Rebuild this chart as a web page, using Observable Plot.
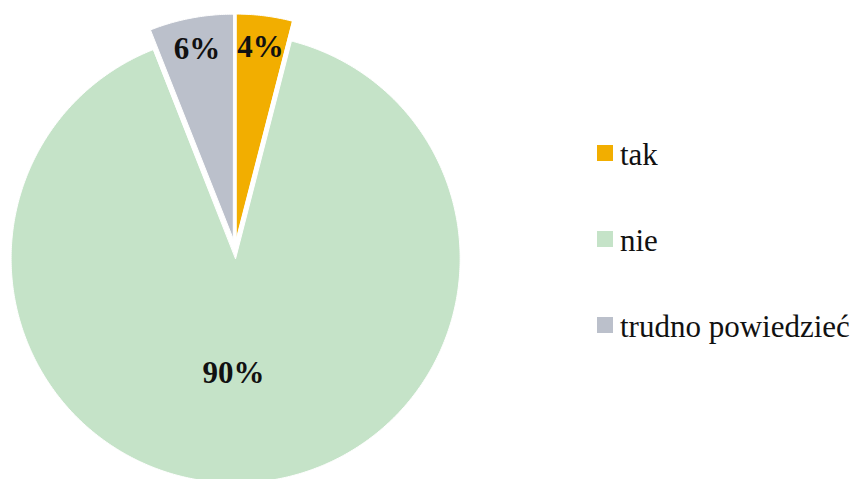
<!DOCTYPE html>
<html>
<head>
<meta charset="utf-8">
<script src="https://cdn.jsdelivr.net/npm/d3@7"></script>
<script src="https://cdn.jsdelivr.net/npm/@observablehq/plot@0.6"></script>
<style>
  html, body { margin: 0; padding: 0; background: #fff; }
  #wrap { position: relative; width: 857px; height: 479px; overflow: hidden; }
  .leg { position: absolute; font-family: "Liberation Serif", serif; font-size: 31px; line-height: 31px; color: #111; white-space: nowrap; }
  .sw { position: absolute; width: 16px; height: 16px; }
</style>
</head>
<body>
<div id="wrap"></div>
<script>
// ---- data ----
const categories = ["tak", "nie", "trudno powiedzieć"];
const values = [4, 90, 6];
const colors = ["#F2AE00", "#C5E3C8", "#BBC0CB"];

// ---- layout ----
const W = 857, H = 479;
const cx = 234.5, cy = 248, R = 224.5;   // pie centre / radius (px)
const explode = 10 / R;                   // slice explosion (in radius units)
const labelR = [0.86, 0.512, 0.86];       // label distance from slice apex
const labelTurn = [0, 4.6, 0];            // label angle adjustment (degrees)

const arcs = d3.pie().sort(null).value(d => d)(values);

// polygon points for each slice (unit-radius coordinates, y up)
const pts = [];
const labels = [];
arcs.forEach((a, i) => {
  const mid = (a.startAngle + a.endAngle) / 2;
  const ox = explode * Math.sin(mid), oy = explode * Math.cos(mid);
  pts.push({category: categories[i], x: ox, y: oy});
  const n = Math.max(4, Math.ceil((a.endAngle - a.startAngle) / (Math.PI / 360)));
  for (let k = 0; k <= n; k++) {
    const t = a.startAngle + (a.endAngle - a.startAngle) * k / n;
    pts.push({category: categories[i], x: ox + Math.sin(t), y: oy + Math.cos(t)});
  }
  const la = mid + labelTurn[i] * Math.PI / 180;
  labels.push({
    text: Math.round(values[i]) + "%",
    x: ox + labelR[i] * Math.sin(la),
    y: oy + labelR[i] * Math.cos(la)
  });
});

const chart = Plot.plot({
  width: W, height: H,
  margin: 0,
  x: {domain: [-cx / R, (W - cx) / R], range: [0, W], axis: null},
  y: {domain: [-(H - cy) / R, cy / R], range: [H, 0], axis: null},
  color: {domain: categories, range: colors},
  marks: [
    Plot.line(pts, {x: "x", y: "y", z: "category", fill: "category", stroke: "white", strokeWidth: 1, curve: "linear-closed"}),
    Plot.text(labels, {x: "x", y: "y", text: "text", fontFamily: "Liberation Serif", fontWeight: "bold", fontSize: 31, fill: "#111"})
  ]
});
chart.style.position = "absolute";
chart.style.left = "0px";
chart.style.top = "0px";
const wrap = document.getElementById("wrap");
wrap.appendChild(chart);

// legend
const legTop = 145, legStep = 86;
categories.forEach((c, i) => {
  const sw = document.createElement("div");
  sw.className = "sw";
  sw.style.left = "597px";
  sw.style.top = (legTop + i * legStep) + "px";
  sw.style.background = colors[i];
  wrap.appendChild(sw);
  const t = document.createElement("div");
  t.className = "leg";
  t.style.left = "620px";
  t.style.top = (legTop - 6 + i * legStep) + "px";
  t.textContent = c;
  wrap.appendChild(t);
});
</script>
</body>
</html>
